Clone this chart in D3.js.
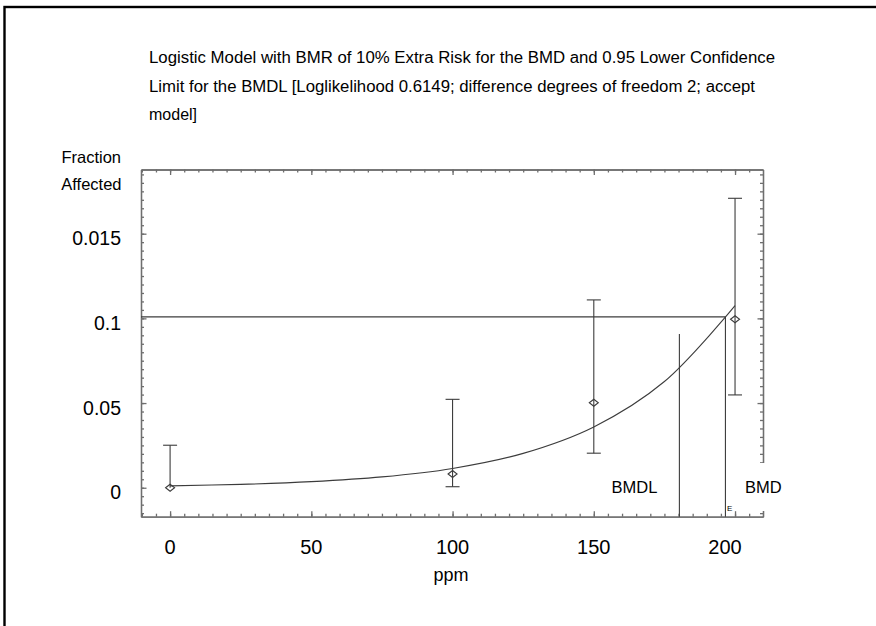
<!DOCTYPE html>
<html>
<head>
<meta charset="utf-8">
<script src="https://cdn.jsdelivr.net/npm/d3@7"></script>
<style>
  body { margin: 0; background: #fff; }
  text { font-family: "Liberation Sans", Arial, sans-serif; fill: #000; }
</style>
</head>
<body>
<script>
const W = 876, H = 626;

// observed data
const doses = [0, 100, 150, 200];
const fractions = [0, 0.0081, 0.0502, 0.0995];
const lowerCI = [0, 0.0006, 0.0204, 0.0548];
const upperCI = [0.0251, 0.0522, 0.1109, 0.1709];

// fitted logistic curve
const curveDoses = [0, 25, 50, 75, 100, 125, 150, 175, 200];
const curveFractions = [0.0011, 0.002, 0.0036, 0.0064, 0.0114, 0.0203, 0.0359, 0.0627, 0.1075];

const bmr = 0.1009;
const bmd = 196.6;
const bmdl = 180.3;
const bmdlTop = 0.0908;

const xTicks = [0, 50, 100, 150, 200];
const xTickLabels = ["0", "50", "100", "150", "200"];
const yTicks = [0, 0.05, 0.1, 0.15];
const yTickLabels = ["0", "0.05", "0.1", "0.015"];

const titleLines = [
  "Logistic Model with BMR of 10% Extra Risk for the BMD and 0.95 Lower Confidence",
  "Limit for the BMDL [Loglikelihood 0.6149; difference degrees of freedom 2; accept",
  "model]"
];
const titleWidths = [626, 606, null];

const svg = d3.select("body").append("svg")
  .attr("width", W)
  .attr("height", H);

// outer frame (right/bottom fall outside the picture)
svg.append("rect")
  .attr("x", 4.5).attr("y", 7)
  .attr("width", 1000).attr("height", 1000)
  .attr("fill", "none")
  .attr("stroke", "#000")
  .attr("stroke-width", 2.4);

const x = d3.scaleLinear().domain([-10.3, 209.9]).range([141, 763]);
const y = d3.scaleLinear().domain([-0.0171, 0.1879]).range([516.7, 169.5]);

const [x0, x1] = x.range();
const [y0, y1] = y.range();

const xMinor = d3.range(-2, 42).map(i => i * 5);
const yMinor = d3.range(-3, 38).map(i => i * 0.005);

function styleAxis(g) {
  g.selectAll("path, line").attr("stroke", "#6e6e6e").attr("stroke-width", 1.3);
  g.selectAll("text").remove();
}

const axes = [
  [d3.axisBottom(x), `translate(0,${y0})`, xMinor, xTicks],
  [d3.axisTop(x), `translate(0,${y1})`, xMinor, xTicks],
  [d3.axisLeft(y), `translate(${x0},0)`, yMinor, yTicks],
  [d3.axisRight(y), `translate(${x1},0)`, yMinor, yTicks]
];
axes.forEach(([ax, tr, minor, major]) => {
  svg.append("g").attr("transform", tr)
    .call(ax.tickValues(minor).tickSize(-3).tickSizeOuter(0).tickFormat(""))
    .call(styleAxis);
  svg.append("g").attr("transform", tr)
    .call(ax.tickValues(major).tickSize(-5.5).tickSizeOuter(0).tickFormat(""))
    .call(styleAxis);
});

// tick labels
svg.append("g").selectAll("text")
  .data(xTicks)
  .join("text")
  .attr("x", (d, i) => x(d) + (i === xTicks.length - 1 ? -10 : 0))
  .attr("y", 554)
  .attr("text-anchor", "middle")
  .style("font-size", "20px")
  .text((d, i) => xTickLabels[i]);

svg.append("g").selectAll("text")
  .data(yTicks)
  .join("text")
  .attr("x", 121)
  .attr("y", d => y(d) + 11.5)
  .attr("text-anchor", "end")
  .style("font-size", "19.5px")
  .text((d, i) => yTickLabels[i]);

// axis titles
svg.append("text")
  .attr("x", 451).attr("y", 581)
  .attr("text-anchor", "middle")
  .style("font-size", "18px")
  .text("ppm");

svg.append("text")
  .attr("x", 121).attr("y", 162.7)
  .attr("text-anchor", "end")
  .style("font-size", "16.5px")
  .text("Fraction");
svg.append("text")
  .attr("x", 121.5).attr("y", 190)
  .attr("text-anchor", "end")
  .style("font-size", "16.5px")
  .text("Affected");

// title
titleLines.forEach((t, i) => {
  const el = svg.append("text")
    .attr("x", 149)
    .attr("y", 63.3 + i * 28.5)
    .style("font-size", "16px")
    .text(t);
  if (titleWidths[i]) {
    el.attr("textLength", titleWidths[i]).attr("lengthAdjust", "spacingAndGlyphs");
  }
});

const ink = "#3c3c3c";

// BMR line and BMD / BMDL markers
svg.append("line")
  .attr("x1", x0).attr("x2", x(bmd))
  .attr("y1", y(bmr)).attr("y2", y(bmr))
  .attr("stroke", ink).attr("stroke-width", 1.1);

svg.append("line")
  .attr("x1", x(bmd)).attr("x2", x(bmd))
  .attr("y1", y(bmr)).attr("y2", y0)
  .attr("stroke", ink).attr("stroke-width", 1.1);

svg.append("line")
  .attr("x1", x(bmdl)).attr("x2", x(bmdl))
  .attr("y1", y(bmdlTop)).attr("y2", y0)
  .attr("stroke", ink).attr("stroke-width", 1.1);

// fitted curve
const line = d3.line()
  .x((d, i) => x(curveDoses[i]))
  .y(d => y(d))
  .curve(d3.curveCatmullRom);

svg.append("path")
  .datum(curveFractions)
  .attr("d", line)
  .attr("fill", "none")
  .attr("stroke", ink)
  .attr("stroke-width", 1.1);

// error bars
const cap = 7;
const bars = svg.append("g")
  .attr("stroke", ink)
  .attr("stroke-width", 1.1)
  .attr("fill", "none");

doses.forEach((d, i) => {
  const cx = x(d);
  bars.append("line")
    .attr("x1", cx).attr("x2", cx)
    .attr("y1", y(lowerCI[i])).attr("y2", y(upperCI[i]));
  bars.append("line")
    .attr("x1", cx - cap).attr("x2", cx + cap)
    .attr("y1", y(upperCI[i])).attr("y2", y(upperCI[i]));
  if (lowerCI[i] > 0) {
    bars.append("line")
      .attr("x1", cx - cap).attr("x2", cx + cap)
      .attr("y1", y(lowerCI[i])).attr("y2", y(lowerCI[i]));
  }
  const cy = y(fractions[i]);
  bars.append("path")
    .attr("d", `M${cx - 4.5},${cy}L${cx},${cy - 3.5}L${cx + 4.5},${cy}L${cx},${cy + 3.5}Z`);
});

// labels
svg.append("text")
  .attr("x", 611.5).attr("y", 493.3)
  .style("font-size", "16.5px")
  .text("BMDL");

svg.append("rect")
  .attr("x", 740).attr("y", 463)
  .attr("width", 46).attr("height", 48)
  .attr("fill", "#fff");

svg.append("text")
  .attr("x", 745).attr("y", 493.3)
  .style("font-size", "16.5px")
  .text("BMD");

svg.append("text")
  .attr("x", x(bmd) + 1.5).attr("y", 511)
  .style("font-size", "8px")
  .text("E");
</script>
</body>
</html>
